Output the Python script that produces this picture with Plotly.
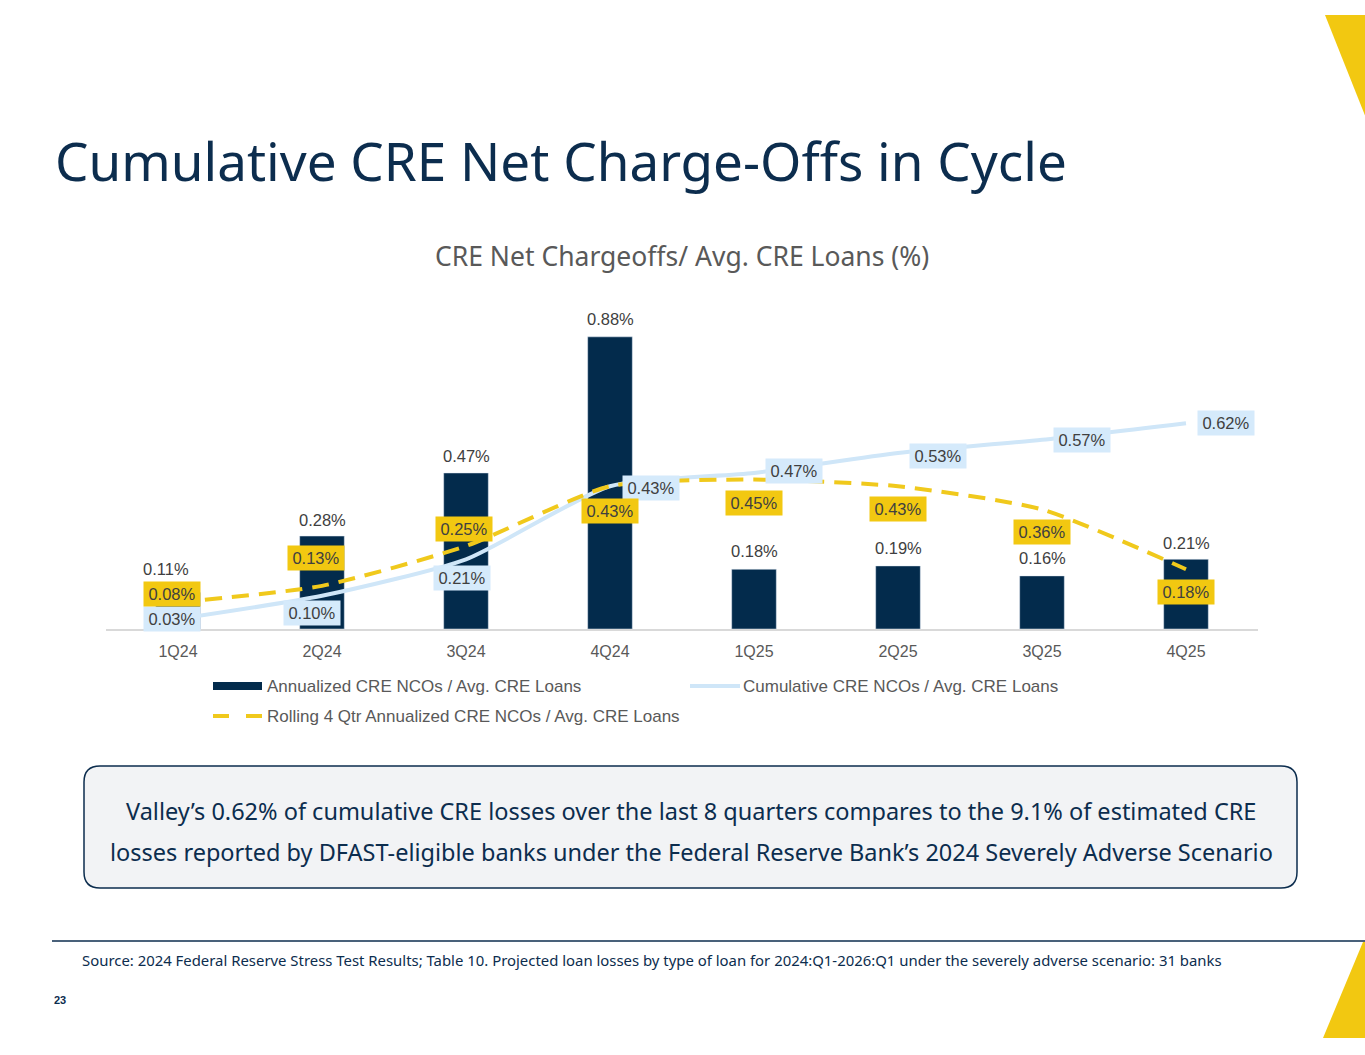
import plotly.graph_objects as go

# ---------------- data ----------------
quarters = ['1Q24', '2Q24', '3Q24', '4Q24', '1Q25', '2Q25', '3Q25', '4Q25']
annualized = [0.11, 0.28, 0.47, 0.88, 0.18, 0.19, 0.16, 0.21]
cumulative = [0.03, 0.10, 0.21, 0.43, 0.47, 0.53, 0.57, 0.62]
rolling = [0.08, 0.13, 0.25, 0.43, 0.45, 0.43, 0.36, 0.18]

series_names = ['Annualized CRE NCOs / Avg. CRE Loans',
                'Cumulative CRE NCOs / Avg. CRE Loans',
                'Rolling 4 Qtr Annualized CRE NCOs / Avg. CRE Loans']

title_text = 'Cumulative CRE Net Charge-Offs in Cycle'
chart_title = 'CRE Net Chargeoffs/ Avg. CRE Loans (%)'
callout_lines = ['Valley\u2019s 0.62% of cumulative CRE losses over the last 8 quarters compares to the 9.1% of estimated CRE',
                 'losses reported by DFAST-eligible banks under the Federal Reserve Bank\u2019s 2024 Severely Adverse Scenario']
source_text = ('Source: 2024 Federal Reserve Stress Test Results; Table 10. Projected loan losses by type of loan '
               'for 2024:Q1-2026:Q1 under the severely adverse scenario: 31 banks')
page_number = '23'

# ---------------- style ----------------
W, H = 1365, 1055
L, R, T, B = 106, 107, 297, 426
PW, PH = W - L - R, H - T - B
NAVY = '#032b4c'
TXT_NAVY = '#0c2d4e'
LBLUE = '#cfe6f8'
LBLUE_BOX = '#d5eafb'
YELLOW = '#f0c91c'
YELLOW_BOX = '#f2c811'
GRAY = '#595959'
LABEL = '#404040'
CHART_FONT = 'Liberation Sans, Arial, sans-serif'
BRAND_FONT = 'Noto Sans, Lato, sans-serif'
LBL_SIZE = 16.5


def px(x):
    return (x - L) / PW


def py(y):
    return (H - B - y) / PH


fig = go.Figure()
fig.add_trace(go.Bar(x=quarters, y=annualized, name=series_names[0], marker_color=NAVY,
                     width=0.31, showlegend=False))
fig.add_trace(go.Scatter(x=quarters, y=cumulative, name=series_names[1], mode='lines',
                         line=dict(color=LBLUE, width=4, shape='spline', smoothing=0.6),
                         showlegend=False))
fig.add_trace(go.Scatter(x=quarters, y=rolling, name=series_names[2], mode='lines',
                         line=dict(color=YELLOW, width=4, dash='17px,10px', shape='spline', smoothing=0.6),
                         showlegend=False))

ann = []
# bar labels
bar_dx = [-12, 0, 0, 0, 0, 0, 0, 0]
bar_dy = [23, 16, 17, 18, 18, 18, 18, 16]
for i, q in enumerate(quarters):
    ann.append(dict(x=q, y=annualized[i], xref='x', yref='y', text=f'{annualized[i]:.2f}%',
                    showarrow=False, xshift=bar_dx[i], yshift=bar_dy[i],
                    font=dict(family=CHART_FONT, size=LBL_SIZE, color=LABEL)))
# cumulative labels
cum_dx = [-6, -10, -4, 41, 40, 40, 40, 40]
cum_dy = [0, -17, -19, -2, 2, -3, 0, 0]
for i, q in enumerate(quarters):
    ann.append(dict(x=q, y=cumulative[i], xref='x', yref='y', text=f'{cumulative[i]:.2f}%',
                    showarrow=False, xshift=cum_dx[i], yshift=cum_dy[i], bgcolor=LBLUE_BOX,
                    width=50, height=18, borderpad=3,
                    font=dict(family=CHART_FONT, size=LBL_SIZE, color=LABEL)))
# rolling labels
rol_dx = [-6, -6, -2, 0, 0, 0, 0, 0]
rol_dy = [8, 28, 17, -25, -23, -23, -23, -23]
for i, q in enumerate(quarters):
    ann.append(dict(x=q, y=rolling[i], xref='x', yref='y', text=f'{rolling[i]:.2f}%',
                    showarrow=False, xshift=rol_dx[i], yshift=rol_dy[i], bgcolor=YELLOW_BOX,
                    width=50, height=18, borderpad=3,
                    font=dict(family=CHART_FONT, size=LBL_SIZE, color=LABEL)))

# titles
ann.append(dict(x=px(53), y=py(160), xref='paper', yref='paper', xanchor='left', yanchor='middle',
                text=title_text, showarrow=False,
                font=dict(family=BRAND_FONT, size=53, color=TXT_NAVY)))
ann.append(dict(x=px(682), y=py(256), xref='paper', yref='paper', xanchor='center', yanchor='middle',
                text=chart_title, showarrow=False,
                font=dict(family=BRAND_FONT, size=26.5, color=GRAY)))

# legend (manual)
shapes = []
shapes.append(dict(type='rect', xref='paper', yref='paper', x0=px(213), x1=px(262), y0=py(690), y1=py(682),
                   fillcolor=NAVY, line=dict(width=0)))
shapes.append(dict(type='line', xref='paper', yref='paper', x0=px(690), x1=px(740), y0=py(686), y1=py(686),
                   line=dict(color=LBLUE, width=4)))
shapes.append(dict(type='line', xref='paper', yref='paper', x0=px(213), x1=px(229), y0=py(716), y1=py(716),
                   line=dict(color=YELLOW, width=4)))
shapes.append(dict(type='line', xref='paper', yref='paper', x0=px(246), x1=px(262), y0=py(716), y1=py(716),
                   line=dict(color=YELLOW, width=4)))
for (xx, yy, t) in [(265, 686, series_names[0]), (741, 686, series_names[1]), (265, 716, series_names[2])]:
    ann.append(dict(x=px(xx), y=py(yy), xref='paper', yref='paper', xanchor='left', yanchor='middle',
                    text=t, showarrow=False, font=dict(family=CHART_FONT, size=17, color=GRAY)))

# callout box (rounded rect)
x0, x1, y0, y1, r = 84, 1297, 766, 888, 16
path = (f'M {px(x0 + r)},{py(y0)} L {px(x1 - r)},{py(y0)} Q {px(x1)},{py(y0)} {px(x1)},{py(y0 + r)} '
        f'L {px(x1)},{py(y1 - r)} Q {px(x1)},{py(y1)} {px(x1 - r)},{py(y1)} '
        f'L {px(x0 + r)},{py(y1)} Q {px(x0)},{py(y1)} {px(x0)},{py(y1 - r)} '
        f'L {px(x0)},{py(y0 + r)} Q {px(x0)},{py(y0)} {px(x0 + r)},{py(y0)} Z')
shapes.append(dict(type='path', xref='paper', yref='paper', path=path, fillcolor='#f2f3f5',
                   line=dict(color=TXT_NAVY, width=1.5), layer='below'))
for yy, t in zip([811, 852], callout_lines):
    ann.append(dict(x=px(691), y=py(yy), xref='paper', yref='paper', xanchor='center', yanchor='middle',
                    text=t, showarrow=False, font=dict(family=BRAND_FONT, size=23.5, color=TXT_NAVY)))

# footer
shapes.append(dict(type='line', xref='paper', yref='paper', x0=px(52), x1=px(1365), y0=py(941), y1=py(941),
                   line=dict(color=TXT_NAVY, width=1.5)))
ann.append(dict(x=px(80), y=py(960), xref='paper', yref='paper', xanchor='left', yanchor='middle',
                text=source_text, showarrow=False, font=dict(family=BRAND_FONT, size=14.9, color=TXT_NAVY)))
ann.append(dict(x=px(52), y=py(1000), xref='paper', yref='paper', xanchor='left', yanchor='middle',
                text=f'<b>{page_number}</b>', showarrow=False, font=dict(family=CHART_FONT, size=11, color=TXT_NAVY)))

# decorative yellow triangles
shapes.append(dict(type='path', xref='paper', yref='paper',
                   path=f'M {px(1325)},{py(15)} L {px(1366)},{py(15)} L {px(1366)},{py(118)} Z',
                   fillcolor=YELLOW_BOX, line=dict(width=0)))
shapes.append(dict(type='path', xref='paper', yref='paper',
                   path=f'M {px(1363)},{py(942)} L {px(1366)},{py(942)} L {px(1366)},{py(1038)} L {px(1323)},{py(1038)} Z',
                   fillcolor=YELLOW_BOX, line=dict(width=0)))

fig.update_layout(
    width=W, height=H, autosize=False,
    margin=dict(l=L, r=R, t=T, b=B),
    paper_bgcolor='white', plot_bgcolor='white',
    showlegend=False,
    annotations=ann, shapes=shapes,
    xaxis=dict(type='category', range=[-0.5, 7.5], showgrid=False, zeroline=False,
               showline=True, linecolor='#d9d9d9', linewidth=1.5, ticks='', ticklabelstandoff=7,
               tickfont=dict(family=CHART_FONT, size=16, color=GRAY), fixedrange=True),
    yaxis=dict(range=[0, 1.0], visible=False, showgrid=False, zeroline=False, fixedrange=True),
    bargap=0.69,
)

fig.write_html('out.html', config={'displayModeBar': False},
               post_script="document.body.style.margin='0px';document.body.style.overflow='hidden';")
